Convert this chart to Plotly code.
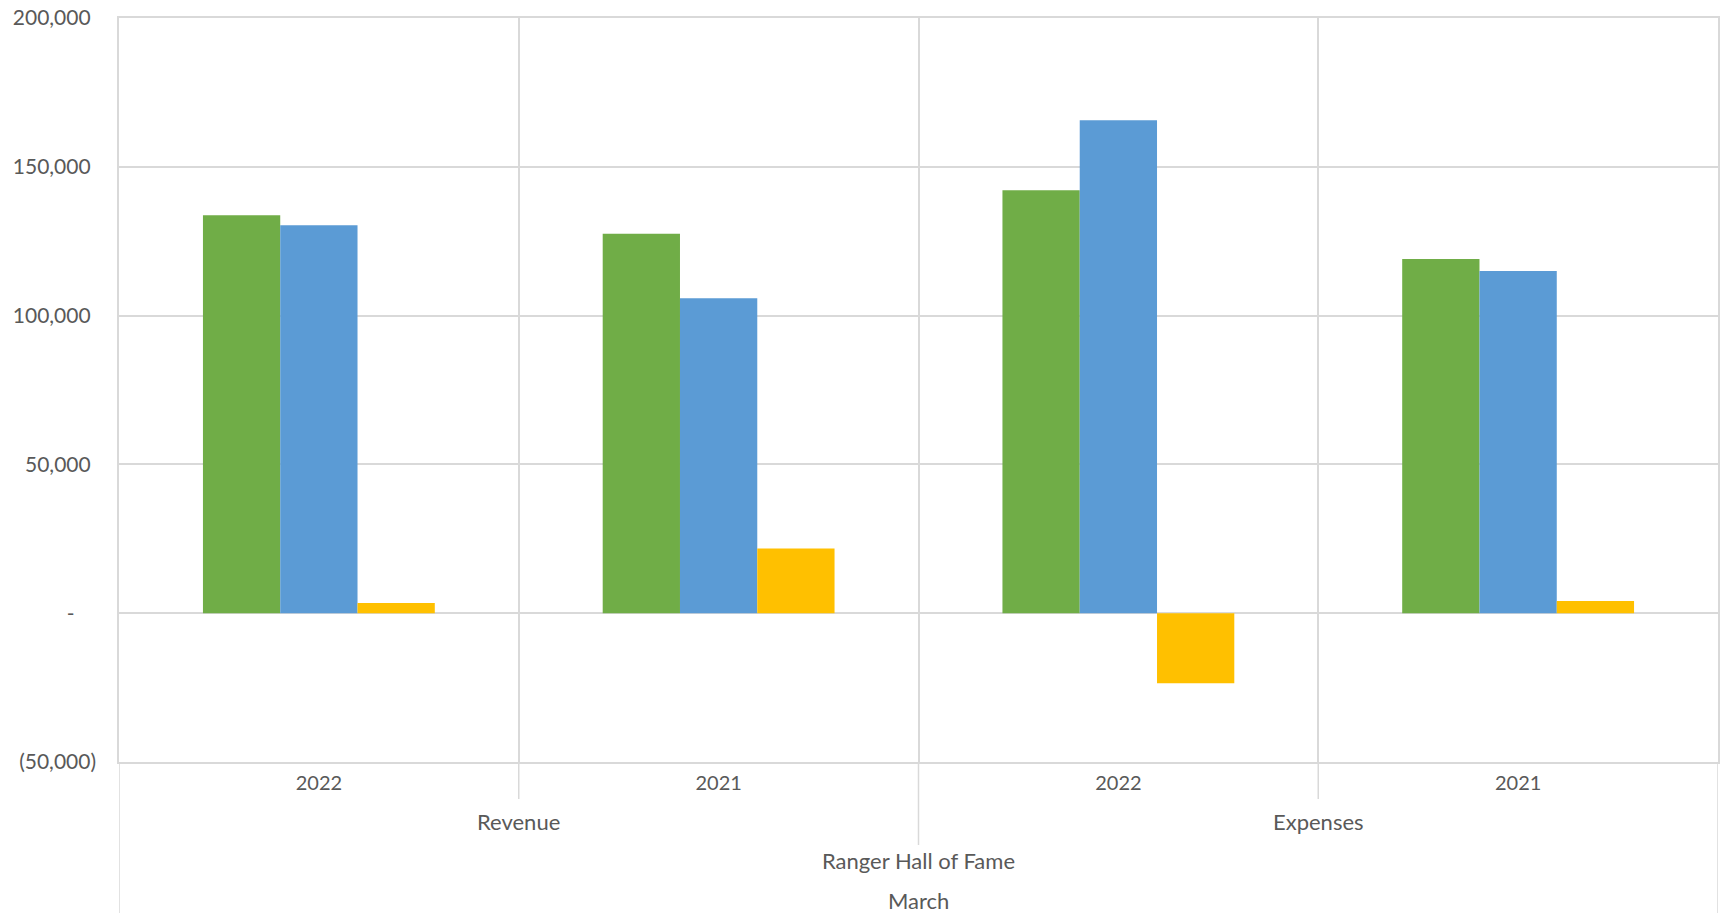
import plotly.graph_objects as go

# ---- data ----
groups = ["Revenue", "Revenue", "Expenses", "Expenses"]
years = ["2022", "2021", "2022", "2021"]
series_names = ["Actual", "Budget", "Variance"]
actual = [133700, 127500, 142100, 119000]
budget = [130400, 105800, 165600, 115000]
variance = [3400, 21700, -23500, 4100]
level3 = "Ranger Hall of Fame"
level4 = "March"
y_ticks = [-50000, 0, 50000, 100000, 150000, 200000]
y_ticktext = ["(50,000)", "-\u00a0\u00a0\u00a0\u00a0", "50,000\u00a0", "100,000\u00a0", "150,000\u00a0", "200,000\u00a0"]

colors = ["#70AD47", "#5B9BD5", "#FFC000"]
FONT = "Lato"
TXT = "#595959"
GRID = "#D9D9D9"

xpos = list(range(len(years)))

fig = go.Figure()
for name, vals, col in zip(series_names, [actual, budget, variance], colors):
    fig.add_trace(go.Bar(x=xpos, y=vals, name=name, marker=dict(color=col, line=dict(width=0))))

fig.update_layout(
    width=1721, height=913,
    margin=dict(l=119, r=1, t=18, b=151),
    paper_bgcolor="white", plot_bgcolor="white",
    barmode="group", bargap=0.42, bargroupgap=0,
    showlegend=False,
    font=dict(family=FONT, size=20, color=TXT),
)
fig.update_xaxes(
    range=[-0.5, len(years) - 0.5],
    tickmode="array", tickvals=xpos, ticktext=years,
    showgrid=False, zeroline=False, ticks="",
    ticklabelstandoff=2,
    tickfont=dict(family=FONT, size=20, color=TXT),
    minor=dict(tick0=-0.5, dtick=1, showgrid=True, gridcolor=GRID, gridwidth=1.5),
    showline=True, linecolor=GRID, linewidth=1.5, mirror=True,
)
fig.update_yaxes(
    range=[-50000, 200000],
    tickmode="array", tickvals=y_ticks, ticktext=y_ticktext,
    tickfont=dict(family=FONT, size=21, color=TXT),
    showgrid=True, gridcolor=GRID, gridwidth=1.5,
    zeroline=True, zerolinecolor=GRID, zerolinewidth=2,
    ticks="", ticklabelstandoff=17,
    showline=True, linecolor=GRID, linewidth=1.5, mirror=True,
)

# divider lines below the category axis
plot_h = 913 - 18 - 151
def py(px_below):
    return -px_below / plot_h

for b in [0.5, 2.5]:
    fig.add_shape(type="line", xref="x", yref="paper", x0=b, x1=b, y0=0, y1=py(37),
                  line=dict(color=GRID, width=1.5))
fig.add_shape(type="line", xref="x", yref="paper", x0=1.5, x1=1.5, y0=0, y1=py(83),
              line=dict(color=GRID, width=1.5))
for b in [-0.5, 3.5]:
    fig.add_shape(type="line", xref="x", yref="paper", x0=b, x1=b, y0=0, y1=py(160),
                  line=dict(color=GRID, width=1.5))

# group labels
seen = []
for g in groups:
    if g not in seen:
        seen.append(g)
for g in seen:
    idx = [i for i, gg in enumerate(groups) if gg == g]
    cx = sum(idx) / len(idx)
    fig.add_annotation(x=cx, y=py(59), xref="x", yref="paper", text=g, showarrow=False,
                       yanchor="middle", font=dict(family=FONT, size=22, color=TXT))
fig.add_annotation(x=(len(years) - 1) / 2, y=py(98), xref="x", yref="paper", text=level3,
                   showarrow=False, yanchor="middle", font=dict(family=FONT, size=22, color=TXT))
fig.add_annotation(x=(len(years) - 1) / 2, y=py(138), xref="x", yref="paper", text=level4,
                   showarrow=False, yanchor="middle", font=dict(family=FONT, size=22, color=TXT))

fig.write_html("out.html")
